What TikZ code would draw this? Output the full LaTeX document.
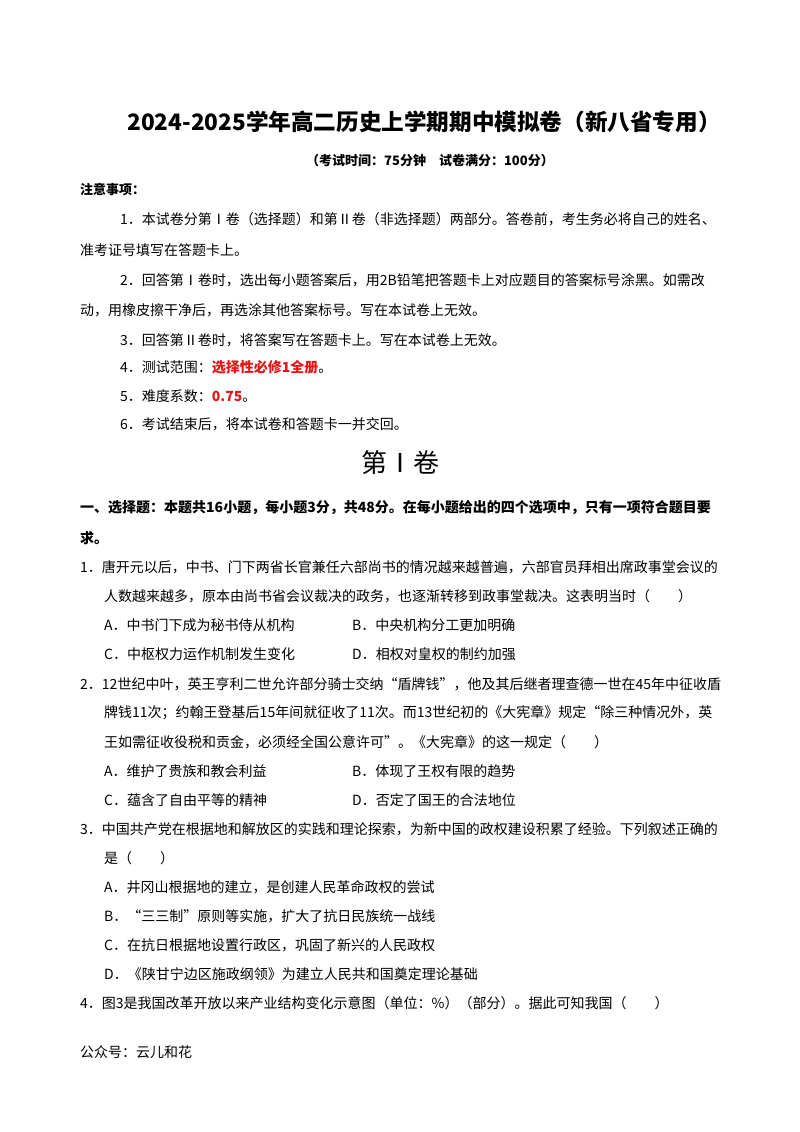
\documentclass[tikz,border=0pt]{standalone}
\usepackage{fontspec}
\setmainfont{Noto Sans CJK SC}
\definecolor{rd}{RGB}{230,20,20}
\begin{document}
\begin{tikzpicture}[x=1pt,y=-1pt,
  t/.style={anchor=west,inner sep=0pt,font=\fontsize{14}{15}\selectfont},
  tb/.style={t,font=\fontsize{14}{15}\selectfont\bfseries}]
\useasboundingbox[fill=white] (0,0) rectangle (800,1132);
\node[inner sep=0pt,font=\fontsize{22.6}{24}\selectfont\bfseries] (title) at (424,122) {2024-2025学年高二历史上学期期中模拟卷（新八省专用）};
\node[inner sep=0pt,font=\fontsize{13}{14}\selectfont\bfseries] (sub) at (430,161) {（考试时间：75分钟\quad 试卷满分：100分）};
\node[tb,font=\fontsize{13}{14}\selectfont\bfseries] (zy) at (80,190) {注意事项：};
\node[t] (n1) at (120,219) {1．本试卷分第Ⅰ卷（选择题）和第Ⅱ卷（非选择题）两部分。答卷前，考生务必将自己的姓名、};
\node[t] (n1b) at (80,250) {准考证号填写在答题卡上。};
\node[t] (n2) at (120,280) {2．回答第Ⅰ卷时，选出每小题答案后，用2B铅笔把答题卡上对应题目的答案标号涂黑。如需改};
\node[t] (n2b) at (80,310) {动，用橡皮擦干净后，再选涂其他答案标号。写在本试卷上无效。};
\node[t] (n3) at (120,340) {3．回答第Ⅱ卷时，将答案写在答题卡上。写在本试卷上无效。};
\node[t] (n4) at (120,367) {4．测试范围：{\color{rd}\bfseries 选择性必修1全册}。};
\node[t] (n5) at (120,396) {5．难度系数：{\color{rd}\bfseries 0.75}。};
\node[t] (n6) at (120,424) {6．考试结束后，将本试卷和答题卡一并交回。};
\node[inner sep=0pt,font=\fontsize{26}{28}\selectfont] (juan) at (400,463) {第Ⅰ卷};
\node[tb] (s1) at (80,508) {一、选择题：本题共16小题，每小题3分，共48分。在每小题给出的四个选项中，只有一项符合题目要};
\node[tb] (s1b) at (80,538) {求。};
\node[t] (q1) at (80,567) {1．唐开元以后，中书、门下两省长官兼任六部尚书的情况越来越普遍，六部官员拜相出席政事堂会议的};
\node[t] (q1b) at (104,596) {人数越来越多，原本由尚书省会议裁决的政务，也逐渐转移到政事堂裁决。这表明当时（　　）};
\node[t] (q1A) at (104,625) {A．中书门下成为秘书侍从机构};
\node[t] (q1B) at (352,625) {B．中央机构分工更加明确};
\node[t] (q1C) at (104,654) {C．中枢权力运作机制发生变化};
\node[t] (q1D) at (352,654) {D．相权对皇权的制约加强};
\node[t] (q2) at (80,684) {2．12世纪中叶，英王亨利二世允许部分骑士交纳“盾牌钱”，他及其后继者理查德一世在45年中征收盾};
\node[t] (q2b) at (104,713) {牌钱11次；约翰王登基后15年间就征收了11次。而13世纪初的《大宪章》规定“除三种情况外，英};
\node[t] (q2c) at (104,742) {王如需征收役税和贡金，必须经全国公意许可”。《大宪章》的这一规定（　　）};
\node[t] (q2A) at (104,771) {A．维护了贵族和教会利益};
\node[t] (q2B) at (352,771) {B．体现了王权有限的趋势};
\node[t] (q2C) at (104,800) {C．蕴含了自由平等的精神};
\node[t] (q2D) at (352,800) {D．否定了国王的合法地位};
\node[t] (q3) at (80,829) {3．中国共产党在根据地和解放区的实践和理论探索，为新中国的政权建设积累了经验。下列叙述正确的};
\node[t] (q3b) at (104,858) {是（　　）};
\node[t] (q3A) at (104,887) {A．井冈山根据地的建立，是创建人民革命政权的尝试};
\node[t] (q3B) at (104,916) {B．“三三制”原则等实施，扩大了抗日民族统一战线};
\node[t] (q3C) at (104,945) {C．在抗日根据地设置行政区，巩固了新兴的人民政权};
\node[t] (q3D) at (104,974) {D．《陕甘宁边区施政纲领》为建立人民共和国奠定理论基础};
\node[t] (q4) at (80,1003) {4．图3是我国改革开放以来产业结构变化示意图（单位：\%）（部分）。据此可知我国（　　）};
\node[t,font=\fontsize{14}{15}\selectfont] (gzh) at (80,1052) {公众号：云儿和花};
\end{tikzpicture}
\end{document}
